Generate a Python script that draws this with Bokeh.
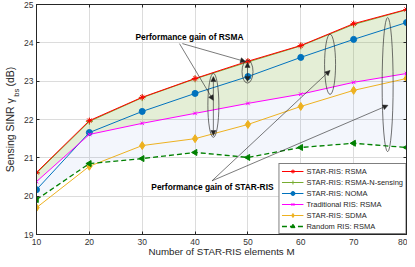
import math
from bokeh.plotting import figure
from bokeh.models import (Range1d, LinearAxis, FixedTicker, Legend, LegendItem,
                          Label, Arrow, NormalHead)
from bokeh.embed import file_html
from bokeh.resources import INLINE

# ---------------- data ----------------
M = [10, 20, 30, 40, 50, 60, 70, 80]
star_rsma = [20.62, 21.97, 22.58, 23.07, 23.52, 23.93, 24.50, 24.87]
star_rsma_nsense = [20.60, 21.95, 22.57, 23.06, 23.50, 23.92, 24.48, 24.86]
star_noma = [20.17, 21.66, 22.21, 22.68, 23.12, 23.62, 24.09, 24.53]
trad_rsma = [20.38, 21.61, 21.90, 22.16, 22.42, 22.66, 22.97, 23.20]
star_sdma = [19.70, 20.78, 21.32, 21.50, 21.87, 22.34, 22.76, 23.07]
random_rsma = [19.91, 20.85, 20.98, 21.14, 21.01, 21.27, 21.38, 21.27]

x_ticks = [10, 20, 30, 40, 50, 60, 70, 80]
y_ticks = [19, 20, 21, 22, 23, 24, 25]

legend_labels = ["STAR-RIS: RSMA", "STAR-RIS: RSMA-N-sensing", "STAR-RIS: NOMA",
                 "Traditional RIS: RSMA", "STAR-RIS: SDMA", "Random RIS: RSMA"]

x_label = "Number of STAR-RIS elements M"
y_label = "Sensing SINR γ\u00a0\u00a0\u00a0\u00a0(dB)"   # gap holds the subscript
y_label_sub = "bs"
y_sub_pos = 22.70
rsma_text = "Performance gain of RSMA"
star_text = "Performance gain of STAR-RIS"

FONT = "Liberation Sans"
AX = "#262626"

p = figure(width=407, height=259, output_backend="svg", toolbar_location=None,
           x_range=Range1d(10, 80), y_range=Range1d(19, 25),
           min_border_left=36, min_border_right=1, min_border_top=4, min_border_bottom=25)
p.background_fill_color = "white"
p.border_fill_color = "white"
p.outline_line_color = AX
p.outline_line_width = 1

for ax in [p.xaxis[0], p.yaxis[0]]:
    ax.major_tick_in = 3
    ax.major_tick_out = 0
    ax.minor_tick_in = 0
    ax.minor_tick_out = 0
    ax.axis_line_color = AX
    ax.major_tick_line_color = AX
    ax.major_label_text_font = FONT
    ax.major_label_text_font_size = "8.5px"
    ax.major_label_text_color = "#333333"
p.xaxis[0].ticker = FixedTicker(ticks=x_ticks)
p.yaxis[0].ticker = FixedTicker(ticks=y_ticks)
p.xaxis[0].major_label_standoff = 4
p.yaxis[0].major_label_standoff = 3
p.xaxis[0].axis_label = x_label
p.xaxis[0].axis_label_text_font = FONT
p.xaxis[0].axis_label_text_font_style = "normal"
p.xaxis[0].axis_label_text_font_size = "9.75px"
p.xaxis[0].axis_label_text_color = AX
p.xaxis[0].axis_label_standoff = -2

# outer left axis: carries the y label and its subscript
ylab_axis = LinearAxis(ticker=FixedTicker(ticks=[y_sub_pos]),
                       major_label_overrides={y_sub_pos: y_label_sub, str(y_sub_pos): y_label_sub},
                       major_label_orientation="vertical",
                       major_label_text_font=FONT, major_label_text_font_size="7.5px",
                       major_label_text_color=AX, major_label_standoff=0,
                       major_tick_in=0, major_tick_out=0, minor_tick_in=0, minor_tick_out=0,
                       axis_line_color=None, major_tick_line_color=None,
                       axis_label=y_label, axis_label_text_font=FONT,
                       axis_label_text_font_style="normal", axis_label_text_font_size="10.5px",
                       axis_label_text_color=AX, axis_label_standoff=-6)
p.add_layout(ylab_axis, "left")

for loc, tick in [("above", x_ticks), ("right", y_ticks)]:
    a = LinearAxis(ticker=FixedTicker(ticks=tick), major_tick_in=3, major_tick_out=0,
                   minor_tick_in=0, minor_tick_out=0, axis_line_color=AX,
                   major_tick_line_color=AX, major_label_text_font_size="0px",
                   major_label_standoff=0)
    p.add_layout(a, loc)

p.grid.grid_line_color = "#dcdcdc"
p.grid.grid_line_width = 1
p.xgrid.ticker = FixedTicker(ticks=x_ticks)
p.ygrid.ticker = FixedTicker(ticks=y_ticks)

# shaded regions
p.varea(x=M, y1=trad_rsma, y2=star_rsma, fill_color="#77AC30", fill_alpha=0.2)
p.varea(x=M, y1=random_rsma, y2=trad_rsma, fill_color="#4f86d6", fill_alpha=0.07)

def series(y, color, marker, size, dash="solid", lw=1.0):
    l = p.line(M, y, line_color=color, line_width=lw, line_dash=dash)
    s = p.scatter(M, y, marker=marker, size=size, line_color=color,
                  fill_color=color, line_width=1)
    return [l, s]

r_green = series(star_rsma_nsense, "#77AC30", "cross", 7)
r_red = series(star_rsma, "#FF0000", "asterisk", 6)
r_blue = series(star_noma, "#0072BD", "circle", 6)
r_mag = series(trad_rsma, "#FF00FF", "x", 5)
r_or = series(star_sdma, "#EDB120", "diamond", 8)
r_rand = series(random_rsma, "#008000", "triangle", 6, dash="5 3", lw=1.3)
r_rand[1].glyph.angle = math.pi / 2

renders = [r_red, r_green, r_blue, r_mag, r_or, r_rand]
legend = Legend(items=[LegendItem(label=lab, renderers=rr) for lab, rr in zip(legend_labels, renders)],
                location="bottom_right", margin=0, padding=2, spacing=1,
                glyph_width=22, glyph_height=10, label_height=10, label_standoff=3,
                label_text_font=FONT, label_text_font_size="7.5px", label_text_color=AX,
                border_line_color="black", border_line_width=1,
                background_fill_color="white", background_fill_alpha=1)
p.add_layout(legend)

# ---------------- annotations ----------------
ell_x = [43.46, 49.92, 65.54, 76.43]
ell_y = [22.37, 23.25, 23.44, 22.91]
ell_h = [1.67, 0.60, 1.57, 3.50]
p.ellipse(x=ell_x, y=ell_y, width=11, height=ell_h, width_units="screen",
          height_units="data", fill_alpha=0, line_color="#333333", line_width=0.7)

ann_col = "#222222"
def arrow(x0, y0, x1, y1, both=False):
    head = lambda: NormalHead(size=5, fill_color=ann_col, line_color=ann_col, line_width=0.5)
    p.add_layout(Arrow(x_start=x0, y_start=y0, x_end=x1, y_end=y1, line_color=ann_col,
                       line_width=0.6, end=head(), start=head() if both else None))

arrow(37.05, 23.98, 43.46, 22.50)
arrow(37.6, 23.98, 49.54, 23.51)
arrow(43.2, 20.40, 65.54, 23.28)
arrow(43.2, 20.40, 76.49, 22.37)
arrow(43.46, 21.58, 43.46, 23.12, both=True)
arrow(49.92, 22.99, 49.92, 23.49, both=True)

for txt, tx, ty in [(rsma_text, 38.94, 24.14), (star_text, 43.29, 20.23)]:
    p.add_layout(Label(x=tx, y=ty, text=txt, text_align="center", text_baseline="middle",
                       text_font=FONT, text_font_style="bold", text_font_size="8.4px",
                       text_color="black"))

open("out.html", "w").write(file_html(p, INLINE))
